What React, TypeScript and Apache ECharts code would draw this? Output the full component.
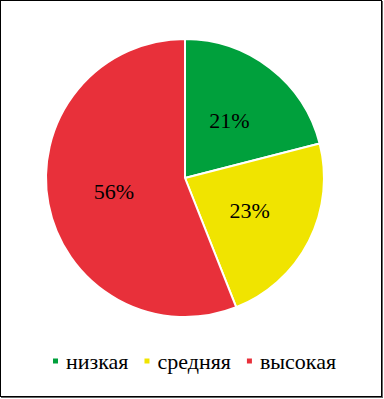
import React, { useEffect, useRef } from "react";
import * as echarts from "echarts";

const categories = ["низкая", "средняя", "высокая"];
const values = [21, 23, 56];
const colors = ["#00A03C", "#F0E400", "#E8303A"];
const FONT = "Liberation Serif";

export default function App() {
  const ref = useRef<HTMLDivElement>(null);
  useEffect(() => {
    if (!ref.current) return;
    const chart = echarts.init(ref.current, null, { renderer: "svg" });
    chart.setOption({
      animation: false,
      color: colors,
      textStyle: { fontFamily: FONT },
      legend: {
        bottom: 22,
        left: 46,
        itemWidth: 7,
        itemHeight: 7,
        itemGap: 14,
        icon: "rect",
        textStyle: { fontFamily: FONT, fontSize: 22, color: "#000", padding: [0, 0, 0, 2] },
        data: categories,
      },
      series: [
        {
          type: "pie",
          center: [185, 178],
          radius: [0, 139],
          startAngle: 90,
          clockwise: true,
          itemStyle: { borderColor: "#fff", borderWidth: 2 },
          label: {
            position: "inside",
            formatter: "{c}%",
            fontFamily: FONT,
            fontSize: 22,
            color: "#000",
          },
          labelLine: { show: false },
          emphasis: { disabled: true },
          data: categories.map((c, i) => ({ name: c, value: values[i] })),
        },
      ],
    });
    return () => chart.dispose();
  }, []);
  return (
    <div
      style={{
        position: "fixed",
        left: 0,
        top: 0,
        width: 384,
        height: 399,
        boxSizing: "border-box",
        background: "#fff",
      }}
    >
      <div
        style={{
          position: "absolute",
          left: 0,
          top: 0,
          width: 382,
          height: 397,
          boxSizing: "border-box",
          border: "1px solid #000",
          boxShadow: "1px 1px 0 #666",
        }}
      />
      <div ref={ref} style={{ position: "absolute", left: 0, top: 0, width: 384, height: 399 }} />
    </div>
  );
}
